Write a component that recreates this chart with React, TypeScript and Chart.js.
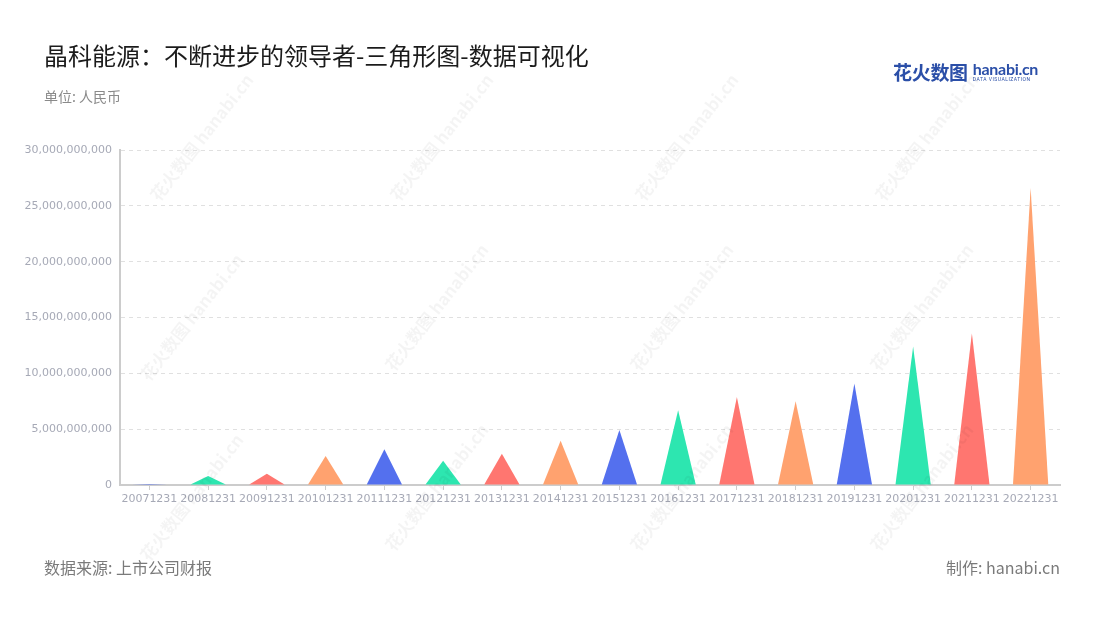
import React, { useEffect, useRef } from "react";
import { Chart, registerables } from "chart.js";

Chart.register(...registerables);

const categories = [
  "20071231", "20081231", "20091231", "20101231", "20111231", "20121231",
  "20131231", "20141231", "20151231", "20161231", "20171231", "20181231",
  "20191231", "20201231", "20211231", "20221231",
];
const revenue = [
  0.08e9, 0.8e9, 1.0e9, 2.6e9, 3.2e9, 2.18e9, 2.8e9, 3.97e9, 4.93e9, 6.7e9,
  7.88e9, 7.5e9, 9.1e9, 12.4e9, 13.6e9, 26.6e9,
];
const palette = ["#5470ee", "#2de6b0", "#ff7670", "#ffa26f"];
const yTicks = [0, 5e9, 10e9, 15e9, 20e9, 25e9, 30e9];

const FONT = '"Noto Sans CJK SC", "Noto Sans", sans-serif';
const TICK_FONT = '"DejaVu Sans", sans-serif';

const trianglePlugin = {
  id: "triangles",
  afterDatasetsDraw(chart: any) {
    const ctx = chart.ctx;
    chart.data.datasets.forEach((ds: any, di: number) => {
      const meta = chart.getDatasetMeta(di);
      meta.data.forEach((el: any, i: number) => {
        const { x, y, base, width } = el.getProps(["x", "y", "base", "width"], true);
        ctx.save();
        ctx.beginPath();
        ctx.moveTo(x - width / 2, base);
        ctx.lineTo(x, y);
        ctx.lineTo(x + width / 2, base);
        ctx.closePath();
        ctx.fillStyle = ds.triColors[i % ds.triColors.length];
        ctx.fill();
        ctx.restore();
      });
    });
  },
};

const watermarkPos = [
  [190, 150], [430, 150], [675, 150], [915, 150],
  [180, 330], [425, 320], [670, 320], [910, 320],
  [180, 510], [425, 500], [670, 500], [910, 500],
];

export default function App() {
  const ref = useRef<HTMLCanvasElement | null>(null);
  useEffect(() => {
    if (!ref.current) return;
    const chart = new Chart(ref.current, {
      type: "bar",
      data: {
        labels: categories,
        datasets: [
          {
            label: "营收",
            data: revenue,
            backgroundColor: "rgba(0,0,0,0)",
            barPercentage: 0.6,
            categoryPercentage: 1,
            triColors: palette,
          } as any,
        ],
      },
      options: {
        animation: false,
        responsive: false,
        devicePixelRatio: 1,
        layout: { padding: { top: 150, right: 40, bottom: 0, left: 0 } },
        plugins: { legend: { display: false }, tooltip: { enabled: false } },
        scales: {
          x: {
            offset: true,
            afterFit: (s: any) => { s.height = 135; },
            grid: { offset: false, drawOnChartArea: false, tickLength: 5, color: "#cccccc", lineWidth: 1 },
            border: { color: "#cccccc", width: 2 },
            ticks: {
              color: "#a6a9b6",
              font: { family: TICK_FONT, size: 11 },
              padding: 3,
              maxRotation: 0,
              autoSkip: false,
            },
          },
          y: {
            min: 0,
            max: 30e9,
            afterFit: (s: any) => { s.width = 120; },
            afterBuildTicks: (s: any) => { s.ticks = yTicks.map((v) => ({ value: v })); },
            grid: { color: "#e0e0e0", drawTicks: false, lineWidth: 1 },
            border: { color: "#cccccc", width: 2, dash: [4, 4] },
            ticks: {
              color: "#a6a9b6",
              font: { family: TICK_FONT, size: 11 },
              padding: 8,
              callback: (v: any) => Number(v).toLocaleString("en-US"),
            },
          },
        },
      },
      plugins: [trianglePlugin],
    } as any);
    return () => chart.destroy();
  }, []);

  return (
    <div style={{ position: "absolute", left: 0, top: 0, width: 1100, height: 620, background: "#fff", overflow: "hidden", fontFamily: FONT }}>
      <canvas ref={ref} width={1100} height={620} style={{ position: "absolute", left: 0, top: 0 }} />
      <div style={{ position: "absolute", left: 44, top: 39, fontSize: 24, lineHeight: "32px", color: "#1b1b1b", whiteSpace: "nowrap" }}>
        晶科能源：不断进步的领导者-三角形图-数据可视化
      </div>
      <div style={{ position: "absolute", left: 44, top: 86, fontSize: 14, lineHeight: "20px", color: "#8a8a8a", whiteSpace: "nowrap" }}>
        单位: 人民币
      </div>
      <div style={{ position: "absolute", left: 893, top: 60, whiteSpace: "nowrap", color: "#2b4fa8", display: "flex", alignItems: "center" }}>
        <span style={{ fontSize: 19, fontWeight: 700, lineHeight: "24px", letterSpacing: -0.3 }}>花火数图</span>
        <span style={{ display: "inline-flex", flexDirection: "column", marginLeft: 5 }}>
          <span style={{ fontSize: 16, fontWeight: 700, lineHeight: "15px", fontFamily: "Lato, sans-serif", letterSpacing: -0.3 }}>hanabi.cn</span>
          <span style={{ fontSize: 5, lineHeight: "7px", letterSpacing: 0.5, fontFamily: "Roboto, sans-serif" }}>DATA VISUALIZATION</span>
        </span>
      </div>
      {watermarkPos.map(([x, y], i) => (
        <div key={i} style={{ position: "absolute", left: x - 60, top: y - 12, width: 120, textAlign: "center", transform: "rotate(-52deg)", color: "rgba(0,0,0,0.045)", fontSize: 17, fontWeight: 700, whiteSpace: "nowrap", pointerEvents: "none" }}>
          花火数图 hanabi.cn
        </div>
      ))}
      <div style={{ position: "absolute", left: 44, top: 556, fontSize: 16, lineHeight: "22px", color: "#7a7a7a", whiteSpace: "nowrap" }}>
        数据来源: 上市公司财报
      </div>
      <div style={{ position: "absolute", right: 40, top: 556, fontSize: 16, lineHeight: "22px", color: "#7a7a7a", whiteSpace: "nowrap" }}>
        制作: hanabi.cn
      </div>
    </div>
  );
}
